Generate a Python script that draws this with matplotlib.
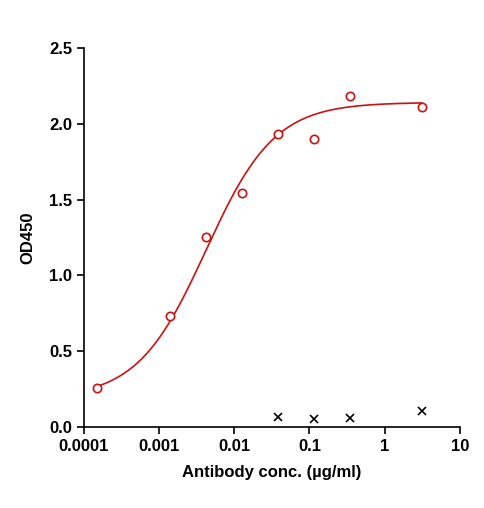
import numpy as np
import matplotlib
matplotlib.use("Agg")
import matplotlib.pyplot as plt

conc = [1.5e-4, 1.4e-3, 4.2e-3, 0.0126, 0.038, 0.115, 0.344, 3.13]
od = [0.257, 0.73, 1.25, 1.54, 1.93, 1.90, 2.18, 2.11]
neg_conc = [0.038, 0.115, 0.344, 3.13]
neg_od = [0.066, 0.053, 0.06, 0.11]
bottom, top, ec50, hill = 0.19, 2.14, 0.0042, 0.95

plt.rcParams['font.family'] = ['Liberation Sans', 'DejaVu Sans']
fig = plt.figure(figsize=(4.85, 5.08), dpi=100)
ax = fig.add_axes([0.173, 0.159, 0.775, 0.747])
xs = np.logspace(np.log10(conc[0]), np.log10(conc[-1]), 300)
ys = bottom + (top - bottom) / (1 + (ec50 / xs) ** hill)
ax.plot(xs, ys, color='#cc1111', lw=1.2)
ax.plot(conc, od, 'o', mfc='white', mec='#cc1111', mew=1.2, ms=6)
ax.plot(neg_conc, neg_od, 'x', color='black', ms=6, mew=1.2)
ax.set_xscale('log')
ax.set_xlim(1e-4, 10)
ax.set_ylim(0, 2.5)
ax.set_xticks([1e-4, 1e-3, 1e-2, 0.1, 1, 10])
ax.set_xticklabels(['0.0001', '0.001', '0.01', '0.1', '1', '10'])
ax.minorticks_off()
ax.set_yticks([0, 0.5, 1.0, 1.5, 2.0, 2.5])
ax.set_yticklabels(['0.0', '0.5', '1.0', '1.5', '2.0', '2.5'])
for s in ['top', 'right']:
    ax.spines[s].set_visible(False)
for s in ['left', 'bottom']:
    ax.spines[s].set_linewidth(1.2)
ax.tick_params(width=1.2, length=5)
for lab in ax.get_xticklabels() + ax.get_yticklabels():
    lab.set_fontweight('bold'); lab.set_fontsize(12)
ax.set_xlabel('Antibody conc. (µg/ml)', fontweight='bold', fontsize=12, labelpad=8)
ax.set_ylabel('OD450', fontweight='bold', fontsize=12, labelpad=10)
fig.savefig('out.png', dpi=100)
